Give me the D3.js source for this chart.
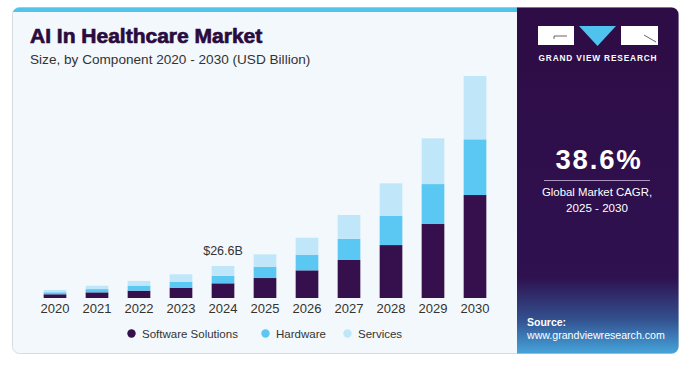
<!DOCTYPE html>
<html>
<head>
<meta charset="utf-8">
<script src="https://cdn.jsdelivr.net/npm/d3@7"></script>
<style>
  html, body { margin: 0; padding: 0; background: #ffffff; }
  svg { display: block; }
</style>
</head>
<body>
<svg id="chart" width="690" height="366"></svg>
<script>
const years = ["2020","2021","2022","2023","2024","2025","2026","2027","2028","2029","2030"];
const software = [3.1, 4.7, 6.1, 8.6, 12.2, 16.6, 23.0, 31.6, 44.0, 61.5, 85.6];
const hardware = [1.7, 2.7, 4.2, 5.0, 6.3, 9.4, 13.0, 17.5, 24.4, 33.2, 46.3];
const services = [1.9, 2.8, 3.9, 6.1, 8.1, 10.3, 14.1, 19.9, 26.9, 38.0, 52.6];
const seriesNames = ["Software Solutions", "Hardware", "Services"];
const seriesColors = ["#36104c", "#5ac8f2", "#bfe7f9"];
const annotation = { year: "2024", label: "$26.6B" };

const FONT = "Liberation Sans, Arial, sans-serif";
const svg = d3.select("#chart");
const defs = svg.append("defs");

// card background
svg.append("rect").attr("x", 12.5).attr("y", 7.5).attr("width", 666).attr("height", 346)
  .attr("rx", 7).attr("fill", "#f3f8fc").attr("stroke", "#d5dbe1");
const clip = defs.append("clipPath").attr("id", "cardclip");
clip.append("rect").attr("x", 12.5).attr("y", 7.5).attr("width", 666).attr("height", 346).attr("rx", 7);
svg.append("rect").attr("x", 12).attr("y", 7).attr("width", 506).attr("height", 5)
  .attr("fill", "#52c3ea").attr("clip-path", "url(#cardclip)");

// right panel
const grad = defs.append("linearGradient").attr("id", "panelgrad").attr("x1", 0).attr("y1", 0).attr("x2", 0).attr("y2", 1);
grad.append("stop").attr("offset", "0%").attr("stop-color", "#2e0c45");
grad.append("stop").attr("offset", "78%").attr("stop-color", "#2f1150");
grad.append("stop").attr("offset", "90%").attr("stop-color", "#33508f");
grad.append("stop").attr("offset", "100%").attr("stop-color", "#46a6dd");
svg.append("rect").attr("x", 517).attr("y", 7).attr("width", 162).attr("height", 347)
  .attr("fill", "url(#panelgrad)").attr("clip-path", "url(#cardclip)");

// logo
svg.append("rect").attr("x", 538).attr("y", 26).attr("width", 36).attr("height", 19).attr("fill", "#ffffff");
svg.append("path").attr("d", "M579,26 L616,26 L597.5,46 Z").attr("fill", "#4fc3ee");
svg.append("rect").attr("x", 621).attr("y", 26).attr("width", 37).attr("height", 19).attr("fill", "#ffffff");
svg.append("path").attr("d", "M554,36 L567,36 M554,36 L554,39").attr("stroke", "#666").attr("fill", "none");
svg.append("path").attr("d", "M644,35 L656,42").attr("stroke", "#666").attr("fill", "none");
svg.append("text").attr("x", 598).attr("y", 61).attr("text-anchor", "middle")
  .attr("font-family", FONT).attr("font-weight", "bold")
  .attr("font-size", 8.3).attr("letter-spacing", 0.85).attr("fill", "#ffffff").text("GRAND VIEW RESEARCH");

// CAGR
svg.append("text").attr("x", 599).attr("y", 169).attr("text-anchor", "middle")
  .attr("font-family", FONT).attr("font-weight", "bold")
  .attr("font-size", 27.5).attr("letter-spacing", 1.8).attr("fill", "#ffffff").text("38.6%");
svg.append("line").attr("x1", 544).attr("x2", 650).attr("y1", 180.5).attr("y2", 180.5)
  .attr("stroke", "#a996bf").attr("stroke-width", 1.2);
svg.append("text").attr("x", 597).attr("y", 196).attr("text-anchor", "middle")
  .attr("font-family", FONT).attr("font-size", 11.4).attr("fill", "#ffffff").text("Global Market CAGR,");
svg.append("text").attr("x", 597).attr("y", 212).attr("text-anchor", "middle")
  .attr("font-family", FONT).attr("font-size", 11.6).attr("fill", "#ffffff").text("2025 - 2030");

// source
svg.append("text").attr("x", 527).attr("y", 326)
  .attr("font-family", FONT).attr("font-weight", "bold")
  .attr("font-size", 10.5).attr("fill", "#ffffff").text("Source:");
svg.append("text").attr("x", 527).attr("y", 339)
  .attr("font-family", FONT).attr("font-size", 10.6).attr("fill", "#ffffff").text("www.grandviewresearch.com");

// titles
svg.append("text").attr("x", 30).attr("y", 43)
  .attr("font-family", FONT).attr("font-weight", "bold")
  .attr("font-size", 21).attr("fill", "#2a0b3e").attr("stroke", "#2a0b3e").attr("stroke-width", 0.7)
  .text("AI In Healthcare Market");
svg.append("text").attr("x", 30).attr("y", 64)
  .attr("font-family", FONT)
  .attr("font-size", 13.6).attr("fill", "#333333").text("Size, by Component 2020 - 2030 (USD Billion)");

// scales
const x = d3.scaleBand().domain(years).range([34, 496]).paddingInner(0.46).paddingOuter(0.23);
const y = d3.scaleLinear().domain([0, 200]).range([298, 298 - 200 * (32 / 26.6)]);

const table = years.map((yr, i) => ({ year: yr, "Software Solutions": software[i], "Hardware": hardware[i], "Services": services[i] }));
const stack = d3.stack().keys(seriesNames)(table);

const g = svg.append("g");
g.selectAll("g.series").data(stack).join("g")
  .attr("fill", (d, i) => seriesColors[i])
  .selectAll("rect").data(d => d).join("rect")
  .attr("x", d => x(d.data.year))
  .attr("width", x.bandwidth())
  .attr("y", d => y(d[1]))
  .attr("height", d => y(d[0]) - y(d[1]));

// x axis
const xAxis = d3.axisBottom(x).tickSize(0).tickPadding(0);
const ax = svg.append("g").attr("transform", "translate(0,298)").call(xAxis);
ax.select(".domain").remove();
ax.selectAll("text").attr("dy", null).attr("y", 14.5)
  .attr("font-family", FONT).attr("font-size", 13).attr("fill", "#333333");

// annotation
const ai = years.indexOf(annotation.year);
svg.append("text").attr("x", x(annotation.year) + x.bandwidth() / 2).attr("y", y(software[ai] + hardware[ai] + services[ai]) - 11)
  .attr("text-anchor", "middle").attr("font-family", FONT)
  .attr("font-size", 12.5).attr("fill", "#333333").text(annotation.label);

// legend
const legendX = [131.5, 265.5, 347.5];
const lg = svg.append("g");
seriesNames.forEach((n, i) => {
  lg.append("circle").attr("cx", legendX[i]).attr("cy", 333.5).attr("r", 4.2).attr("fill", seriesColors[i]);
  lg.append("text").attr("x", legendX[i] + 10.5).attr("y", 337.5)
    .attr("font-family", FONT).attr("font-size", 11.5)
    .attr("fill", "#333333").text(n);
});
</script>
</body>
</html>
